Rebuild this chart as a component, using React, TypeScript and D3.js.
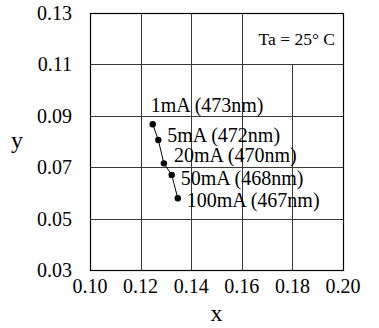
import React from 'react';
import * as d3 from 'd3';

// chromaticity points vs forward current
const CURRENTS = ['1mA', '5mA', '20mA', '50mA', '100mA'];
const WAVELENGTHS = ['473nm', '472nm', '470nm', '468nm', '467nm'];
const X_VALUES = [0.1248, 0.127, 0.1292, 0.1323, 0.1347];
const Y_VALUES = [0.0867, 0.0806, 0.0715, 0.067, 0.0579];

const X_TICKS = [0.1, 0.12, 0.14, 0.16, 0.18, 0.2];
const Y_TICKS = [0.03, 0.05, 0.07, 0.09, 0.11, 0.13];

// label nudges (px) relative to each point
const LABEL_DX = [-2, 9, 10, 9, 9];
const LABEL_DY = [-12, 2, -1, 10, 9];

const WIDTH = 379;
const HEIGHT = 328;
const margin = { top: 13, right: 36, bottom: 58, left: 90 };
const serif = { fontFamily: "'Liberation Serif'" };

export default function App() {
  const innerW = WIDTH - margin.left - margin.right;
  const innerH = HEIGHT - margin.top - margin.bottom;

  const x = d3.scaleLinear().domain([0.1, 0.2]).range([0, innerW]);
  const y = d3.scaleLinear().domain([0.03, 0.13]).range([innerH, 0]);

  const points = X_VALUES.map((v, i) => ({ x: v, y: Y_VALUES[i], label: `${CURRENTS[i]} (${WAVELENGTHS[i]})` }));
  const line = d3.line<{ x: number; y: number }>()
    .x((d) => x(d.x))
    .y((d) => y(d.y));

  const gridColor = '#3a3a3a';

  return (
    <svg
      width={WIDTH}
      height={HEIGHT}
      style={{ position: 'absolute', left: 0, top: 0, background: '#fff' }}
    >
      <g transform={`translate(${margin.left},${margin.top})`}>
        {/* vertical grid */}
        {X_TICKS.slice(1, -1).map((t) => (
          <line
            key={`vx${t}`}
            x1={Math.round(x(t)) + 0.5}
            x2={Math.round(x(t)) + 0.5}
            // the 0.18 line stops under the Ta box
            y1={t > 0.17 ? y(0.11) : 0}
            y2={innerH}
            stroke={gridColor}
            strokeWidth={1}
          />
        ))}
        {/* horizontal grid */}
        {Y_TICKS.slice(1, -1).map((t) => (
          <line
            key={`hy${t}`}
            x1={0}
            x2={innerW}
            y1={Math.round(y(t)) + 0.5}
            y2={Math.round(y(t)) + 0.5}
            stroke={gridColor}
            strokeWidth={1}
          />
        ))}
        <rect x={0.5} y={0.5} width={innerW} height={innerH} fill="none" stroke="#000" strokeWidth={1.2} />

        {/* x ticks */}
        {X_TICKS.map((t) => (
          <text key={`tx${t}`} x={x(t)} y={innerH + 23} textAnchor="middle" fontSize={20} fill="#000" style={serif}>
            {d3.format('.2f')(t)}
          </text>
        ))}
        {/* y ticks */}
        {Y_TICKS.map((t) => (
          <text key={`ty${t}`} x={-18} y={y(t) + 7} textAnchor="end" fontSize={20} fill="#000" style={serif}>
            {d3.format('.2f')(t)}
          </text>
        ))}

        <text x={x(0.15)} y={innerH + 51} textAnchor="middle" fontSize={24} fill="#000" style={serif}>x</text>
        <text x={-73} y={y(0.08) + 6} textAnchor="middle" fontSize={24} fill="#000" style={serif}>y</text>

        <text x={innerW - 8} y={y(0.12) + 6} textAnchor="end" fontSize={17.5} fill="#000" style={serif}>
          Ta = 25° C
        </text>

        <path d={line(points) ?? ''} fill="none" stroke="#000" strokeWidth={1} />
        {points.map((p, i) => (
          <g key={p.label}>
            <circle cx={x(p.x)} cy={y(p.y)} r={3.2} fill="#000" />
            <text
              x={x(p.x) + LABEL_DX[i]}
              y={y(p.y) + LABEL_DY[i]}
              fontSize={20}
              fill="#000"
              style={serif}
            >
              {p.label}
            </text>
          </g>
        ))}
      </g>
    </svg>
  );
}
